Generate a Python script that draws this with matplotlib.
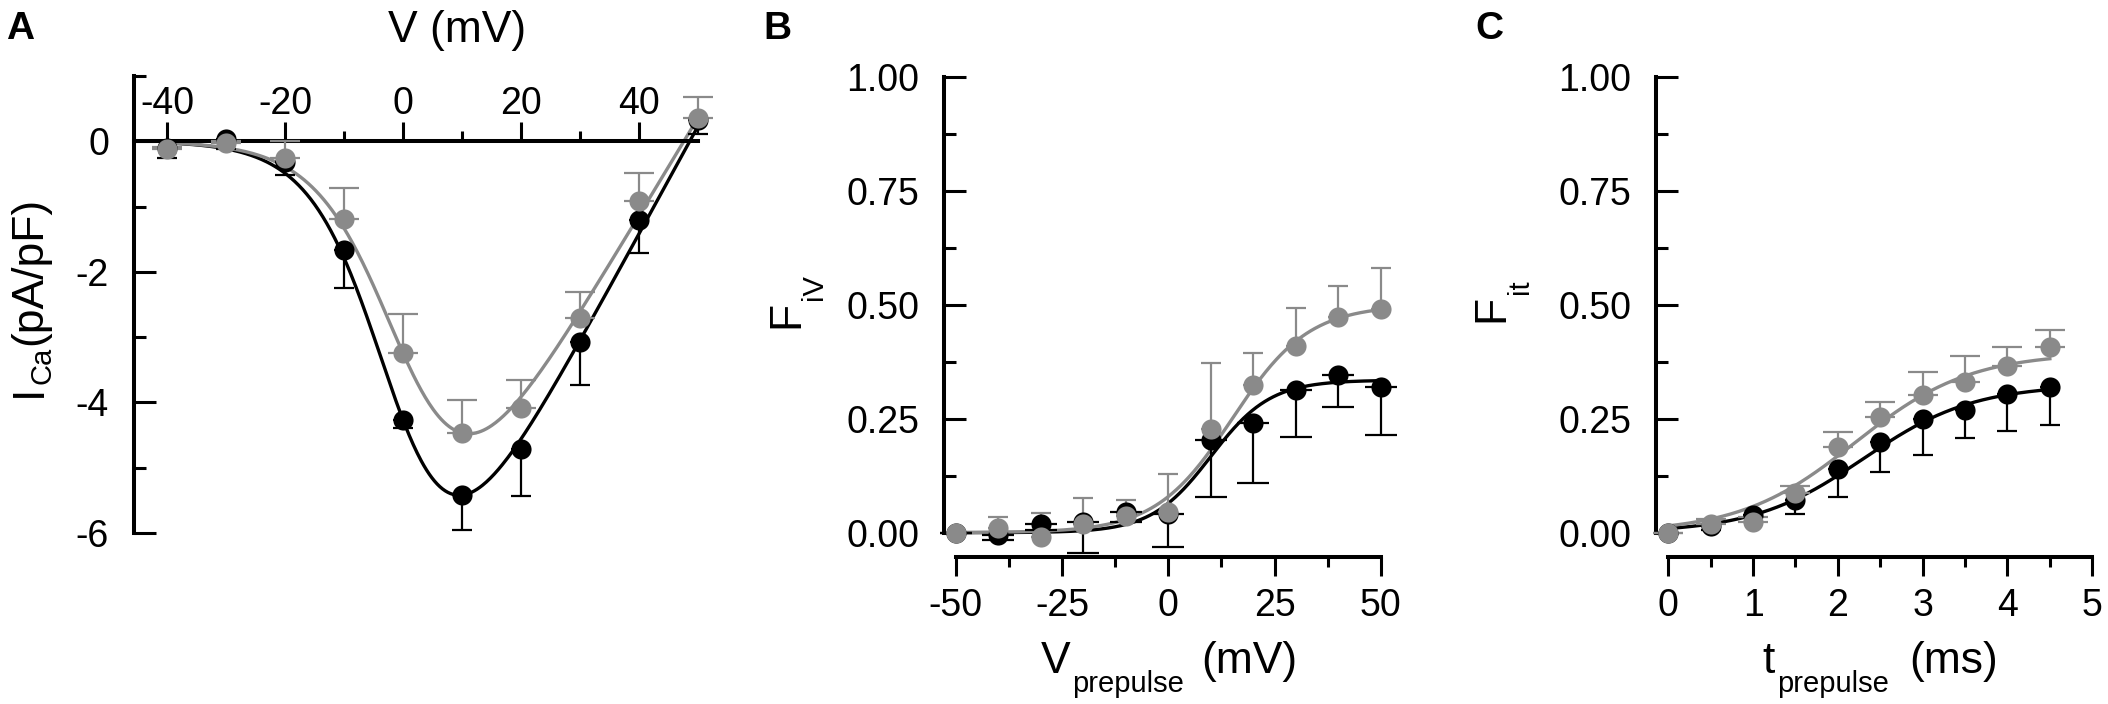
import numpy as np
import matplotlib
matplotlib.use('Agg')
import matplotlib.pyplot as plt
from matplotlib.ticker import FixedLocator, FormatStrFormatter

plt.rcParams['font.family'] = ['Liberation Sans', 'DejaVu Sans']
plt.rcParams['axes.unicode_minus'] = False

W, H = 2108, 704
DPI = 100
PX = 72.0 / DPI
fig = plt.figure(figsize=(W / DPI, H / DPI), dpi=DPI)
fig.patch.set_facecolor('white')

GRAY = '#8a8a8a'
BLACK = '#000000'

# ---------------- Panel A: I-V relation ----------------
a_v = [-40, -30, -20, -10, 0, 10, 20, 30, 40, 50]
a_black = [-0.10, 0.03, -0.32, -1.67, -4.27, -5.42, -4.71, -3.07, -1.21, 0.33]
a_black_err = [0.16, 0.15, 0.20, 0.57, 0.12, 0.53, 0.73, 0.66, 0.50, 0.22]
a_gray = [-0.12, -0.02, -0.25, -1.19, -3.25, -4.47, -4.08, -2.70, -0.91, 0.36]
a_gray_err = [0.03, 0.03, 0.25, 0.48, 0.60, 0.50, 0.43, 0.39, 0.42, 0.32]
# Boltzmann-Ohm fit parameters (G, Vrev, V50, k)
a_fit_black = [0.165, 48.6, -0.8, 6.2]
a_fit_gray = [0.150, 47.6, 1.2, 6.58]
a_xticks = [-40, -20, 0, 20, 40]
a_yticks = [0, -2, -4, -6]

# ---------------- Panel B: F_iV ----------------
b_v = [-50, -40, -30, -20, -10, 0, 10, 20, 30, 40, 50]
b_black = [0.0, -0.005, 0.02, 0.024, 0.046, 0.042, 0.204, 0.24, 0.313, 0.346, 0.32]
b_black_err = [0.0, 0.01, 0.015, 0.068, 0.022, 0.073, 0.125, 0.13, 0.102, 0.071, 0.105]
b_gray = [0.0, 0.01, -0.009, 0.02, 0.037, 0.046, 0.227, 0.324, 0.41, 0.474, 0.491]
b_gray_err = [0.0, 0.025, 0.053, 0.057, 0.035, 0.083, 0.146, 0.071, 0.083, 0.068, 0.09]
# Boltzmann fit parameters (Fmax, V50, k)
b_fit_black = [0.335, 10.0, 7.0]
b_fit_gray = [0.50, 15.0, 9.0]
b_xticks = [-50, -25, 0, 25, 50]

# ---------------- Panel C: F_it ----------------
c_t = [0, 0.5, 1, 1.5, 2, 2.5, 3, 3.5, 4, 4.5]
c_black = [0.0, 0.015, 0.039, 0.072, 0.139, 0.20, 0.249, 0.269, 0.305, 0.319]
c_black_err = [0.0, 0.01, 0.015, 0.03, 0.06, 0.066, 0.078, 0.062, 0.081, 0.083]
c_gray = [0.0, 0.02, 0.024, 0.088, 0.189, 0.253, 0.302, 0.33, 0.365, 0.408]
c_gray_err = [0.0, 0.011, 0.01, 0.014, 0.033, 0.033, 0.05, 0.059, 0.043, 0.036]
# sigmoidal fit parameters (Fmax, t50, k)
c_fit_black = [0.325, 2.3, 0.65]
c_fit_gray = [0.395, 2.2, 0.68]
c_xticks = [0, 1, 2, 3, 4, 5]

f_yticks = [0.0, 0.25, 0.50, 0.75, 1.00]


def boltz_iv(v, g, vrev, v50, k):
    return g * (v - vrev) / (1 + np.exp((v50 - v) / k))


def boltz(x, fmax, x50, k):
    return fmax / (1 + np.exp((x50 - x) / k))


def px_axes(left, right, top, bottom):
    return fig.add_axes([left / W, 1 - bottom / H, (right - left) / W, (bottom - top) / H])


TICK_FS = 27
LABEL_FS = 32
SUB_FS = 21
SPINE_LW = 2.9
MS = 14.5
LW = 2.4
ELW = 1.6


def draw_series(ax, x, y, err, color, capsize, down):
    yerr = [err, [0] * len(err)] if down else [[0] * len(err), err]
    ax.errorbar(x, y, yerr=yerr, fmt='none', ecolor=color, elinewidth=ELW,
                capsize=capsize, capthick=ELW, zorder=3, clip_on=False)
    ax.plot(x, y, 'o', color=color, markersize=MS, markeredgewidth=0,
            zorder=4, clip_on=False)


def style_axis(ax):
    for s in ax.spines.values():
        s.set_linewidth(SPINE_LW)
    ax.set_facecolor('none')
    ax.tick_params(which='both', width=2.2, labelsize=TICK_FS, color='black')
    ax.tick_params(axis='y', which='major', direction='in', length=22 * PX, pad=18)
    ax.tick_params(axis='y', which='minor', direction='in', length=12 * PX)


# ---------- Panel A ----------
axA = px_axes(134, 698, 76, 533)
axA.set_xlim(-45.6, 50)
axA.set_ylim(-6, 1)
style_axis(axA)
axA.spines['bottom'].set_visible(False)
axA.spines['right'].set_visible(False)
axA.spines['top'].set_position(('data', 0))
axA.xaxis.set_ticks_position('top')
axA.tick_params(axis='x', which='major', direction='out', length=19 * PX, pad=0.5)
axA.tick_params(axis='x', which='minor', direction='out', length=10 * PX)
axA.xaxis.set_major_locator(FixedLocator(a_xticks))
axA.xaxis.set_minor_locator(FixedLocator([-30, -10, 10, 30]))
axA.yaxis.set_major_locator(FixedLocator(a_yticks))
axA.yaxis.set_minor_locator(FixedLocator([1, -1, -3, -5]))
axA.set_xticklabels([str(v) for v in a_xticks])
axA.set_yticklabels([str(v) for v in a_yticks])

vv = np.linspace(a_v[0], a_v[-1], 400)
axA.plot(vv, boltz_iv(vv, *a_fit_black), color=BLACK, lw=LW, zorder=2, clip_on=False)
axA.plot(vv, boltz_iv(vv, *a_fit_gray), color=GRAY, lw=LW, zorder=2, clip_on=False)
draw_series(axA, a_v, a_black, a_black_err, BLACK, 7.2, True)
draw_series(axA, a_v, a_gray, a_gray_err, GRAY, 11, False)

# ---------- Panel B ----------
axB = px_axes(944, 1393.6, 77.3, 557)
axB.set_xlim(-52.8, 53.0)
axB.set_ylim(-0.0534, 1.0)
style_axis(axB)
axB.spines['top'].set_visible(False)
axB.spines['right'].set_visible(False)
axB.spines['left'].set_bounds(0, 1)
axB.spines['bottom'].set_bounds(-50, 50)
axB.tick_params(axis='x', which='major', direction='out', length=19 * PX, pad=8.6)
axB.tick_params(axis='x', which='minor', direction='out', length=10 * PX)
axB.xaxis.set_major_locator(FixedLocator(b_xticks))
axB.xaxis.set_minor_locator(FixedLocator([-37.5, -12.5, 12.5, 37.5]))
axB.yaxis.set_major_locator(FixedLocator(f_yticks))
axB.yaxis.set_minor_locator(FixedLocator([0.125, 0.375, 0.625, 0.875]))
axB.set_xticklabels([str(v) for v in b_xticks])
axB.yaxis.set_major_formatter(FormatStrFormatter('%.2f'))

vb = np.linspace(b_v[0], b_v[-1], 400)
axB.plot(vb, boltz(vb, *b_fit_black), color=BLACK, lw=LW, zorder=2, clip_on=False)
axB.plot(vb, boltz(vb, *b_fit_gray), color=GRAY, lw=LW, zorder=2, clip_on=False)
draw_series(axB, b_v, b_black, b_black_err, BLACK, 11.5, True)
draw_series(axB, b_v, b_gray, b_gray_err, GRAY, 7.2, False)

# ---------- Panel C ----------
axC = px_axes(1656, 2096.5, 77.3, 557)
axC.set_xlim(-0.145, 5.05)
axC.set_ylim(-0.0534, 1.0)
style_axis(axC)
axC.spines['top'].set_visible(False)
axC.spines['right'].set_visible(False)
axC.spines['left'].set_bounds(0, 1)
axC.spines['bottom'].set_bounds(0, 5)
axC.tick_params(axis='x', which='major', direction='out', length=19 * PX, pad=8.6)
axC.tick_params(axis='x', which='minor', direction='out', length=10 * PX)
axC.xaxis.set_major_locator(FixedLocator(c_xticks))
axC.xaxis.set_minor_locator(FixedLocator([0.5, 1.5, 2.5, 3.5, 4.5]))
axC.yaxis.set_major_locator(FixedLocator(f_yticks))
axC.yaxis.set_minor_locator(FixedLocator([0.125, 0.375, 0.625, 0.875]))
axC.set_xticklabels([str(v) for v in c_xticks])
axC.yaxis.set_major_formatter(FormatStrFormatter('%.2f'))

tc = np.linspace(c_t[0], c_t[-1], 400)
axC.plot(tc, boltz(tc, *c_fit_black), color=BLACK, lw=LW, zorder=2, clip_on=False)
axC.plot(tc, boltz(tc, *c_fit_gray), color=GRAY, lw=LW, zorder=2, clip_on=False)
draw_series(axC, c_t, c_black, c_black_err, BLACK, 7.2, True)
draw_series(axC, c_t, c_gray, c_gray_err, GRAY, 11, False)

# ---------- Text: labels composed of pieces ----------
renderer = fig.canvas.get_renderer()


def measure(s, size, weight='normal'):
    t = fig.text(0, 0, s, fontsize=size, weight=weight)
    w = t.get_window_extent(renderer=renderer).width
    t.remove()
    return w


def hlabel(pieces, x0, ybase, center=False):
    widths = [measure(p[0], p[1]) for p in pieces]
    total = sum(widths) + sum(p[3] for p in pieces)
    x = x0 - total / 2 if center else x0
    for (s, size, dy, gap), w in zip(pieces, widths):
        x += gap
        fig.text(x / W, 1 - (ybase + dy) / H, s, fontsize=size,
                 ha='left', va='baseline')
        x += w


def vlabel(pieces, xbase, ycenter):
    widths = [measure(p[0], p[1]) for p in pieces]
    total = sum(widths) + sum(p[3] for p in pieces)
    y = ycenter + total / 2
    for (s, size, dy, gap), w in zip(pieces, widths):
        y -= gap
        fig.text((xbase + dy) / W, 1 - y / H, s, fontsize=size, rotation=90,
                 rotation_mode='anchor', ha='left', va='baseline')
        y -= w


hlabel([('V (mV)', LABEL_FS, 0, 0)], 388, 42)
vlabel([('I', LABEL_FS, 0, 0), ('Ca', SUB_FS, 10, 1), ('(pA/pF)', LABEL_FS, 0, 2)], 41, 297)
vlabel([('F', LABEL_FS, 0, 0), ('iV', SUB_FS, 24, 1)], 798, 301)
vlabel([('F', LABEL_FS, 0, 0), ('it', SUB_FS, 25, 1)], 1503, 301)
hlabel([('V', LABEL_FS, 0, 0), ('prepulse', SUB_FS, 19, 2), ('(mV)', LABEL_FS, 0, 17)],
       1169, 673, center=True)
hlabel([('t', LABEL_FS, 0, 0), ('prepulse', SUB_FS, 19, 2), ('(ms)', LABEL_FS, 0, 20)],
       1880, 673, center=True)

for letter, x in [('A', 6), ('B', 763), ('C', 1475)]:
    fig.text(x / W, 1 - 11 / H, letter, fontsize=28, weight='bold', ha='left', va='top')

fig.savefig('out.png', dpi=DPI, facecolor='white')
